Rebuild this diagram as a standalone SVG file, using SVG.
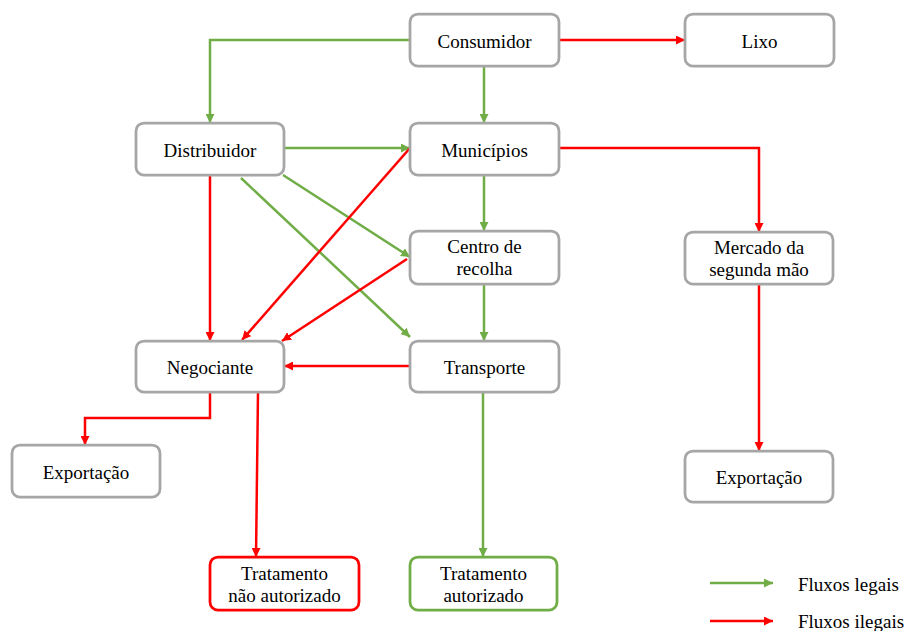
<svg xmlns="http://www.w3.org/2000/svg" width="909" height="631" viewBox="0 0 909 631">
<style>
.n{fill:#fff;stroke:#a6a6a6;stroke-width:2.75}
.nr{fill:#fff;stroke:#ff0000;stroke-width:2.75}
.ng{fill:#fff;stroke:#70ad47;stroke-width:2.75}
text{font-family:Liberation Serif, serif;font-size:19px;fill:#000;text-anchor:middle}
text.lg{text-anchor:start}
.g{fill:none;stroke:#70ad47;stroke-width:2.5;marker-end:url(#ag)}
.r{fill:none;stroke:#ff0000;stroke-width:2.5;marker-end:url(#ar)}
</style>
<defs>
<marker id="ag" viewBox="0 0 10 10" refX="10" refY="5" markerWidth="9" markerHeight="9" markerUnits="userSpaceOnUse" orient="auto"><path d="M0,0 L10,5 L0,10 z" fill="#70ad47"/></marker>
<marker id="ar" viewBox="0 0 10 10" refX="10" refY="5" markerWidth="9" markerHeight="9" markerUnits="userSpaceOnUse" orient="auto"><path d="M0,0 L10,5 L0,10 z" fill="#ff0000"/></marker>
</defs>
<rect width="909" height="631" fill="#fff"/>
<g id="connectors">
<path class="g" d="M410,40 H210 V123"/>
<path class="g" d="M484,66 V123"/>
<path class="r" d="M559,40 H685"/>
<path class="g" d="M284,148 H410"/>
<path class="r" d="M210,175 V341"/>
<path class="g" d="M283,175 L410,257"/>
<path class="g" d="M241,178 L410,337"/>
<path class="r" d="M410,148 L242,340"/>
<path class="r" d="M407,259 L282,341"/>
<path class="r" d="M410,366 H284"/>
<path class="g" d="M484,175 V231"/>
<path class="g" d="M484,284 V341"/>
<path class="r" d="M559,148 H759 V232"/>
<path class="r" d="M759,284 V451"/>
<path class="r" d="M210,392 V418 H85 V445"/>
<path class="r" d="M258,392 L256,557"/>
<path class="g" d="M483,392 V557"/>
</g>
<g id="consumidor"><rect class="n" x="410" y="14" width="149" height="52" rx="8"/><text x="484.5" y="48" font-family="Liberation Serif">Consumidor</text></g>
<g id="lixo"><rect class="n" x="685" y="14" width="149" height="52" rx="8"/><text x="759.5" y="48" font-family="Liberation Serif">Lixo</text></g>
<g id="distribuidor"><rect class="n" x="136" y="123" width="148" height="52" rx="8"/><text x="210" y="157" font-family="Liberation Serif">Distribuidor</text></g>
<g id="municipios"><rect class="n" x="410" y="123" width="149" height="52" rx="8"/><text x="484.5" y="157" font-family="Liberation Serif">Municípios</text></g>
<g id="centro"><rect class="n" x="410" y="231" width="149" height="53" rx="8"/><text x="484.5" y="253" font-family="Liberation Serif">Centro de</text><text x="484.5" y="275" font-family="Liberation Serif">recolha</text></g>
<g id="mercado"><rect class="n" x="685" y="232" width="148" height="52" rx="8"/><text x="759" y="254" font-family="Liberation Serif">Mercado da</text><text x="759" y="276" font-family="Liberation Serif">segunda mão</text></g>
<g id="negociante"><rect class="n" x="136" y="341" width="148" height="51" rx="8"/><text x="210" y="374" font-family="Liberation Serif">Negociante</text></g>
<g id="transporte"><rect class="n" x="410" y="341" width="149" height="51" rx="8"/><text x="484.5" y="374" font-family="Liberation Serif">Transporte</text></g>
<g id="exportacao1"><rect class="n" x="12" y="445" width="148" height="52" rx="8"/><text x="86" y="479" font-family="Liberation Serif">Exportação</text></g>
<g id="exportacao2"><rect class="n" x="685" y="451" width="148" height="51" rx="8"/><text x="759" y="484" font-family="Liberation Serif">Exportação</text></g>
<g id="trat-nao"><rect class="nr" x="210" y="557" width="149" height="53" rx="8"/><text x="284.5" y="580" font-family="Liberation Serif">Tratamento</text><text x="284.5" y="602" font-family="Liberation Serif">não autorizado</text></g>
<g id="trat-aut"><rect class="ng" x="410" y="557" width="147" height="53" rx="8"/><text x="483.5" y="580" font-family="Liberation Serif">Tratamento</text><text x="483.5" y="602" font-family="Liberation Serif">autorizado</text></g>
<g id="legend">
<path class="g" d="M710,583 H773"/>
<path class="r" d="M710,621 H773"/>
<text class="lg" x="798" y="591" font-family="Liberation Serif">Fluxos legais</text>
<text class="lg" x="798" y="628" font-family="Liberation Serif">Fluxos ilegais</text>
</g>
</svg>
